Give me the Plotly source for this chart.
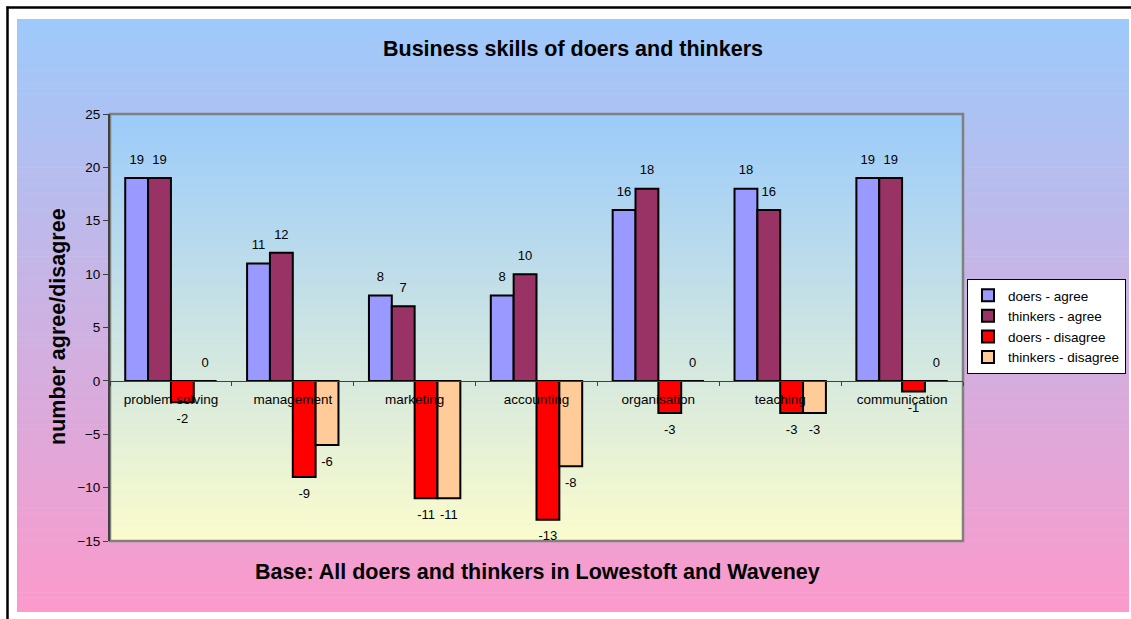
import plotly.graph_objects as go

categories = ["problem solving", "management", "marketing", "accounting",
              "organisation", "teaching", "communication"]
doers_agree = [19, 11, 8, 8, 16, 18, 19]
thinkers_agree = [19, 12, 7, 10, 18, 16, 19]
doers_disagree = [-2, -9, -11, -13, -3, -3, -1]
thinkers_disagree = [0, -6, -11, -8, 0, -3, 0]
y_ticks = [-15, -10, -5, 0, 5, 10, 15, 20, 25]

series = [
    ("doers - agree", doers_agree, "#9999FF"),
    ("thinkers - agree", thinkers_agree, "#993366"),
    ("doers - disagree", doers_disagree, "#FF0000"),
    ("thinkers - disagree", thinkers_disagree, "#FFCC99"),
]

W, H = 1131, 619
L, R, T, B = 110, 963, 114, 541  # plot area in px

def px_x(p):
    return (p - L) / (R - L)

def px_y(p):
    return (B - p) / (B - T)

def blend(c1, c2, t):
    return "rgb(%d,%d,%d)" % tuple(round(a + (b - a) * t) for a, b in zip(c1, c2))

FONT = "Liberation Sans, Arial, sans-serif"

fig = go.Figure()
for name, vals, col in series:
    fig.add_trace(go.Bar(
        x=categories, y=vals, name=name, legendgroup=name,
        marker=dict(color=col, line=dict(color="black", width=2)),
        hoverinfo="x+y+name",
    ))
# value labels (grouped like the bars)
for name, vals, col in series:
    fig.add_trace(go.Scatter(
        x=categories, y=vals, mode="markers+text", showlegend=False,
        legendgroup=name,
        marker=dict(size=16, color="rgba(0,0,0,0)"),
        text=[str(v) for v in vals],
        textposition=["top center" if v >= 0 else "bottom center" for v in vals],
        textfont=dict(family=FONT, size=13, color="black"),
        cliponaxis=False, hoverinfo="skip",
    ))

shapes = []
# outer gradient background
n = 120
top, bot = 19, 612
for i in range(n):
    y0 = top + (bot - top) * i / n
    y1 = top + (bot - top) * (i + 1) / n + 0.6
    shapes.append(dict(type="rect", xref="paper", yref="paper",
                       x0=px_x(17), x1=px_x(1129), y0=px_y(min(y1, bot)), y1=px_y(y0),
                       line=dict(width=0),
                       fillcolor=blend((157, 202, 251), (251, 154, 203), (i + 0.5) / n),
                       layer="below"))
# plot area gradient
for i in range(n):
    y0 = T + (B - T) * i / n
    y1 = T + (B - T) * (i + 1) / n + 0.6
    shapes.append(dict(type="rect", xref="paper", yref="paper",
                       x0=0, x1=1, y0=px_y(min(y1, B)), y1=px_y(y0),
                       line=dict(width=0),
                       fillcolor=blend((155, 203, 251), (251, 252, 204), (i + 0.5) / n),
                       layer="below"))
# plot area border (grey)
shapes.append(dict(type="rect", xref="paper", yref="paper", x0=0, x1=1, y0=0, y1=1,
                   line=dict(color="#808080", width=2.5), layer="below"))
# outer black frame lines (top and left)
shapes.append(dict(type="line", xref="paper", yref="paper",
                   x0=px_x(6.5), x1=px_x(1131), y0=px_y(7.5), y1=px_y(7.5),
                   line=dict(color="black", width=2.5)))
shapes.append(dict(type="line", xref="paper", yref="paper",
                   x0=px_x(7.5), x1=px_x(7.5), y0=px_y(6.5), y1=px_y(619),
                   line=dict(color="black", width=2.5)))

TFONT = dict(family=FONT, size=21.5, color="black")
annotations = [
    dict(text="<b>Business skills of doers and thinkers</b>", xref="paper", yref="paper",
         x=px_x(573), y=px_y(49), xanchor="center", yanchor="middle",
         showarrow=False, font=TFONT),
    dict(text="<b>Base: All doers and thinkers in Lowestoft and Waveney</b>", xref="paper",
         yref="paper", x=px_x(537), y=px_y(572), xanchor="center", yanchor="middle",
         showarrow=False, font=TFONT),
    dict(text="<b>number agree/disagree</b>", xref="paper", yref="paper",
         x=px_x(58), y=px_y(327), xanchor="center", yanchor="middle",
         showarrow=False, textangle=-90, font=TFONT),
]

fig.update_layout(
    width=W, height=H,
    margin=dict(l=L, r=W - R, t=T, b=H - B, pad=0, autoexpand=False),
    paper_bgcolor="white", plot_bgcolor="rgba(0,0,0,0)",
    barmode="group", bargap=0.25, bargroupgap=0,
    scattermode="group", scattergap=0.25,
    font=dict(family=FONT, size=13, color="black"),
    showlegend=True,
    legend=dict(x=px_x(967), y=px_y(279), xanchor="left", yanchor="top",
                bgcolor="white", bordercolor="black", borderwidth=1,
                font=dict(family=FONT, size=13.5, color="black"),
                tracegroupgap=4, traceorder="normal", itemsizing="constant"),
    shapes=shapes, annotations=annotations,
    xaxis=dict(anchor="free", position=0.375, showline=True, linecolor="#404040",
               linewidth=1, ticks="outside", tickson="boundaries", ticklen=4,
               tickcolor="#404040", showgrid=False, zeroline=False,
               ticklabelstandoff=6,
               tickfont=dict(family=FONT, size=13.5, color="black")),
    yaxis=dict(range=[-15, 25], tickvals=y_ticks, showgrid=False, zeroline=False,
               showline=True, linecolor="#404040", linewidth=2, ticks="outside",
               ticklen=5, tickcolor="#404040",
               tickfont=dict(family=FONT, size=13.5, color="black")),
)

fig.write_html("out.html", config={"displayModeBar": False},
               post_script="document.body.style.margin='0';")
